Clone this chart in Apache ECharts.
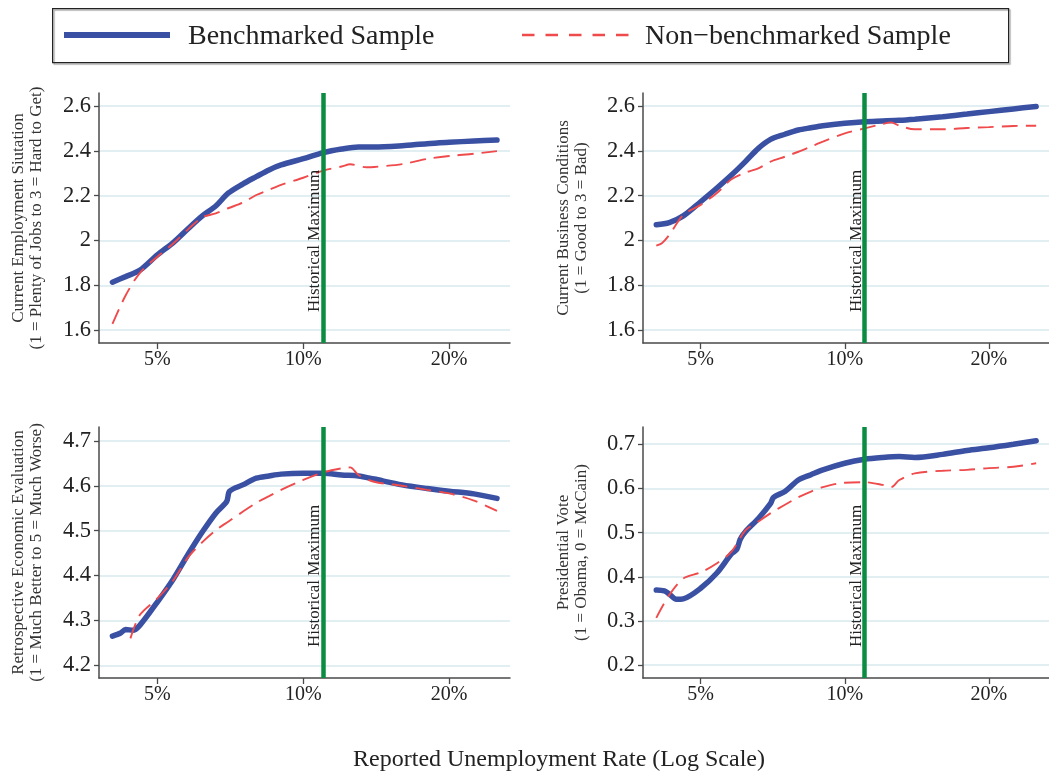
<!DOCTYPE html>
<html>
<head>
<meta charset="utf-8">
<script src="https://cdn.jsdelivr.net/npm/echarts@6/dist/echarts.min.js"></script>
<style>
html,body{margin:0;padding:0;background:#fff;}
#chart{width:1049px;height:773px;}
</style>
</head>
<body>
<div id="chart"></div>
<script>
// ---------- data (x = reported unemployment rate, %) ----------
const xTicks = [5, 10, 20];
const historicalMax = 11.0;

const tlBlueX = [4.04,4.3,4.6,5,5.4,5.8,6.2,6.6,7,7.5,8,8.5,9,10,11,12,13,14,16,18,20,22.5,25.1];
const tlBlueY = [1.814,1.839,1.867,1.936,1.992,2.055,2.111,2.154,2.211,2.252,2.285,2.315,2.337,2.365,2.392,2.408,2.417,2.417,2.423,2.432,2.438,2.444,2.448];
const tlRedX  = [4.04,4.3,4.6,5,5.4,5.8,6.2,6.6,7,7.5,8,8.5,9,10,11,12,12.5,13.5,14,16,18,20,22.5,25.1];
const tlRedY  = [1.628,1.755,1.855,1.928,1.988,2.052,2.104,2.121,2.144,2.169,2.203,2.226,2.248,2.28,2.312,2.33,2.34,2.327,2.328,2.341,2.364,2.377,2.387,2.399];

const trBlueX = [4.04,4.3,4.6,5,5.4,5.8,6.2,6.6,7,7.5,8,8.5,9,10,11,12,13,14,16,18,20,22.5,25.1];
const trBlueY = [2.070,2.080,2.110,2.173,2.233,2.292,2.352,2.411,2.451,2.474,2.493,2.503,2.512,2.523,2.53,2.533,2.536,2.541,2.552,2.564,2.575,2.587,2.598];
const trRedX  = [4.04,4.15,4.3,4.6,5,5.4,5.8,6.2,6.6,7,7.5,8,8.5,9,10,11,12,12.5,13,14,16,18,20,22.5,25.1];
const trRedY  = [1.977,1.988,2.025,2.114,2.159,2.211,2.273,2.303,2.322,2.352,2.374,2.396,2.419,2.441,2.478,2.5,2.52,2.527,2.512,2.496,2.496,2.502,2.506,2.511,2.512];

const blBlueX = [4.04,4.2,4.3,4.45,4.6,5,5.4,5.8,6.2,6.6,6.95,7.05,7.5,8,8.5,9,10,11,12,13,14,16,18,20,22.5,25.1];
const blBlueY = [4.265,4.272,4.280,4.278,4.289,4.341,4.393,4.449,4.498,4.539,4.565,4.588,4.602,4.617,4.622,4.626,4.628,4.628,4.624,4.622,4.615,4.602,4.594,4.588,4.582,4.572];
const blRedX  = [4.4,4.6,5,5.4,5.8,6.2,6.6,7,7.5,8,8.5,9,10,11,12,12.5,13,14,16,18,20,22.5,25.1];
const blRedY  = [4.26,4.312,4.349,4.39,4.442,4.475,4.501,4.52,4.542,4.562,4.577,4.591,4.613,4.630,4.639,4.641,4.624,4.609,4.6,4.591,4.583,4.567,4.544];

const brBlueX = [4.04,4.2,4.3,4.45,4.6,5,5.4,5.8,5.95,6.05,6.2,6.6,7,7.1,7.5,8,8.5,9,10,11,12,13,14,16,18,20,22.5,25.1];
const brBlueY = [0.370,0.368,0.361,0.349,0.350,0.374,0.408,0.452,0.462,0.485,0.502,0.532,0.566,0.58,0.593,0.619,0.631,0.642,0.657,0.666,0.670,0.672,0.670,0.677,0.686,0.692,0.70,0.708];
const brRedX  = [4.04,4.3,4.6,5,5.4,5.8,6.2,6.6,7,7.5,8,8.5,9,10,11,12,12.5,13,14,16,18,20,22.5,25.1];
const brRedY  = [0.307,0.359,0.396,0.41,0.43,0.457,0.505,0.525,0.544,0.563,0.58,0.593,0.603,0.613,0.614,0.608,0.603,0.619,0.634,0.64,0.642,0.646,0.649,0.657];

const yTicksTop = [1.6,1.8,2,2.2,2.4,2.6];
const yTicksBL  = [4.2,4.3,4.4,4.5,4.6,4.7];
const yTicksBR  = [0.2,0.3,0.4,0.5,0.6,0.7];

const yNames = [
  'Current Employment Siutation\n(1 = Plenty of Jobs to 3 = Hard to Get)',
  'Current Business Conditions\n(1 = Good to 3 = Bad)',
  'Retrospective Economic Evaluation\n(1 = Much Better to 5 = Much Worse)',
  'Presidential Vote\n(1 = Obama, 0 = McCain)'
];
const seriesNames = ['Benchmarked Sample', 'Non\u2212benchmarked Sample'];
const xTitle = 'Reported Unemployment Rate (Log Scale)';
const markLabel = 'Historical Maximum';

// ---------- layout / style ----------
const FONT = "'Liberation Serif','Times New Roman',serif";
const BLUE = '#3a50a3';
const RED = '#ef4a4c';
const GREEN = '#0b8c43';
const AXIS = '#4a4a4a';
const GRIDC = '#d7eaef';

const panels = [
  {grid:{left:99, top:93, width:411, height:250},  yMin:1.543, yMax:2.658, ticks:yTicksTop, bx:tlBlueX, by:tlBlueY, rx:tlRedX, ry:tlRedY, gap:53},
  {grid:{left:643, top:93, width:406, height:250}, yMin:1.543, yMax:2.658, ticks:yTicksTop, bx:trBlueX, by:trBlueY, rx:trRedX, ry:trRedY, gap:52},
  {grid:{left:99, top:427, width:411, height:251}, yMin:4.1717, yMax:4.731, ticks:yTicksBL, bx:blBlueX, by:blBlueY, rx:blRedX, ry:blRedY, gap:53},
  {grid:{left:643, top:427, width:406, height:251}, yMin:0.171, yMax:0.739, ticks:yTicksBR, bx:brBlueX, by:brBlueY, rx:brRedX, ry:brRedY, gap:52}
];

const zip = (xs, ys) => xs.map((x, i) => [x, ys[i]]);
const fmtY = v => String(parseFloat((+v).toFixed(2)));

const grid = [], xAxis = [], yAxis = [], series = [];
panels.forEach((p, i) => {
  grid.push(p.grid);
  xAxis.push({
    type: 'log', logBase: 10, gridIndex: i, min: 3.79, max: 26.7,
    axisLine: {show: true, lineStyle: {color: AXIS, width: 1.5}},
    axisTick: {show: true, length: 6, customValues: xTicks, lineStyle: {color: AXIS, width: 1.3}},
    axisLabel: {customValues: xTicks, formatter: v => Math.round(v) + '%', fontFamily: FONT, fontSize: 20, color: '#222', margin: 7},
    splitLine: {show: false}, minorTick: {show: false}, minorSplitLine: {show: false}
  });
  yAxis.push({
    type: 'value', gridIndex: i, min: p.yMin, max: p.yMax,
    name: yNames[i], nameLocation: 'middle', nameGap: p.gap, nameRotate: 90,
    nameTextStyle: {fontFamily: FONT, fontSize: 17, lineHeight: 18, color: '#333', align: 'center'},
    axisLine: {show: true, lineStyle: {color: AXIS, width: 1.5}},
    axisTick: {show: true, length: 5, customValues: p.ticks, lineStyle: {color: AXIS, width: 1.3}},
    axisLabel: {customValues: p.ticks, formatter: fmtY, fontFamily: FONT, fontSize: 22.5, color: '#222', margin: 8},
    splitLine: {show: true, lineStyle: {color: GRIDC, width: 1.6}}
  });
  series.push({
    name: seriesNames[0], type: 'line', xAxisIndex: i, yAxisIndex: i,
    data: zip(p.bx, p.by), showSymbol: false, symbol: 'none', smooth: 0.3,
    lineStyle: {color: BLUE, width: 5.5, cap: 'round'}, itemStyle: {color: BLUE},
    z: 2, animation: false
  });
  series.push({
    name: seriesNames[1], type: 'line', xAxisIndex: i, yAxisIndex: i,
    data: zip(p.rx, p.ry), showSymbol: false, symbol: 'none', smooth: 0.3,
    lineStyle: {color: RED, width: 1.9, type: [16, 8]}, itemStyle: {color: RED},
    z: 3, animation: false,
    markLine: {
      silent: true, symbol: 'none', animation: false,
      lineStyle: {color: GREEN, width: 4.5, type: 'solid'},
      label: {show: true, formatter: markLabel, position: 'insideStartTop', distance: [31, 0],
              fontFamily: FONT, fontSize: 17, color: '#222'},
      emphasis: {disabled: true},
      data: [{xAxis: historicalMax}]
    }
  });
});

const chart = echarts.init(document.getElementById('chart'), null, {renderer: 'canvas'});
chart.setOption({
  animation: false,
  backgroundColor: '#fff',
  grid: grid, xAxis: xAxis, yAxis: yAxis, series: series,
  graphic: [
    // legend frame and keys
    {type: 'rect', left: 52, top: 8, shape: {width: 956, height: 54}, z: 10,
     style: {fill: 'transparent', stroke: '#222', lineWidth: 1.2, shadowColor: 'rgba(0,0,0,0.35)', shadowOffsetX: 1.5, shadowOffsetY: 1.5, shadowBlur: 1}},
    {type: 'line', z: 10, shape: {x1: 64, y1: 35, x2: 170, y2: 35}, style: {stroke: BLUE, lineWidth: 6}},
    {type: 'text', z: 10, x: 188, y: 36.5, style: {text: seriesNames[0], font: "28px 'Liberation Serif','Times New Roman',serif", fill: '#222', textAlign: 'left', textVerticalAlign: 'middle'}},
    {type: 'line', z: 10, shape: {x1: 522, y1: 35, x2: 630, y2: 35}, style: {stroke: RED, lineWidth: 2.6, lineDash: [12.5, 11]}},
    {type: 'text', z: 10, x: 645, y: 36.5, style: {text: seriesNames[1], font: "28px 'Liberation Serif','Times New Roman',serif", fill: '#222', textAlign: 'left', textVerticalAlign: 'middle'}},
    // x-axis title
    {type: 'text', x: 559, y: 760, style: {text: xTitle, font: "24px 'Liberation Serif','Times New Roman',serif", fill: '#222', textAlign: 'center', textVerticalAlign: 'middle'}}
  ]
});
</script>
</body>
</html>
